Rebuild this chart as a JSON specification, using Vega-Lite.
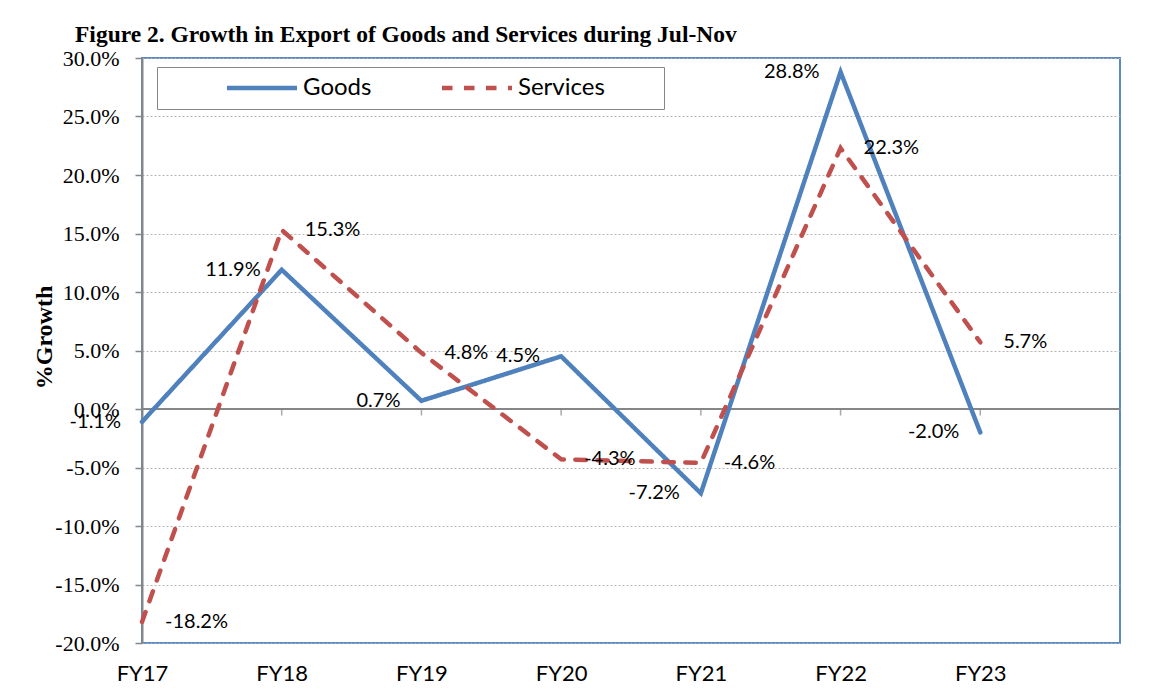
{
  "$schema": "https://vega.github.io/schema/vega-lite/v6.json",
  "width": 978,
  "height": 585,
  "autosize": {"type": "none"},
  "padding": {"left": 142, "top": 58, "right": 38, "bottom": 48},
  "background": "white",
  "title": {
    "text": "Figure 2. Growth in Export of Goods and Services during Jul-Nov",
    "anchor": "start",
    "frame": "group",
    "font": "Liberation Serif",
    "fontSize": 23.5,
    "fontWeight": "bold",
    "color": "black",
    "dx": -67,
    "offset": 1
  },
  "data": {
    "values": [
      {"year": "FY17", "series": "Goods", "value": -1.1},
      {"year": "FY18", "series": "Goods", "value": 11.9},
      {"year": "FY19", "series": "Goods", "value": 0.7},
      {"year": "FY20", "series": "Goods", "value": 4.5},
      {"year": "FY21", "series": "Goods", "value": -7.2},
      {"year": "FY22", "series": "Goods", "value": 28.8},
      {"year": "FY23", "series": "Goods", "value": -2.0},
      {"year": "FY17", "series": "Services", "value": -18.2},
      {"year": "FY18", "series": "Services", "value": 15.3},
      {"year": "FY19", "series": "Services", "value": 4.8},
      {"year": "FY20", "series": "Services", "value": -4.3},
      {"year": "FY21", "series": "Services", "value": -4.6},
      {"year": "FY22", "series": "Services", "value": 22.3},
      {"year": "FY23", "series": "Services", "value": 5.7}
    ]
  },
  "transform": [
    {"calculate": "replace(format(datum.value, '.1f'), '\u2212', '-') + '%'", "as": "label"}
  ],
  "encoding": {
    "x": {
      "field": "year",
      "type": "ordinal",
      "scale": {"type": "point", "domain": ["FY17", "FY18", "FY19", "FY20", "FY21", "FY22", "FY23", " "], "padding": 0},
      "axis": {
        "title": null,
        "domain": false,
        "ticks": false,
        "grid": false,
        "labelAngle": 0,
        "labelFont": "Lato",
        "labelFontSize": 22,
        "labelColor": "black",
        "labelPadding": 20
      }
    },
    "y": {
      "field": "value",
      "type": "quantitative",
      "scale": {"domain": [-20, 30], "nice": false, "zero": false},
      "axis": {
        "values": [-20, -15, -10, -5, 0, 5, 10, 15, 20, 25, 30],
        "labelExpr": "replace(format(datum.value, '.1f'), '\u2212', '-') + '%'",
        "labelFont": "Liberation Serif",
        "labelFontSize": 22,
        "labelColor": "black",
        "labelPadding": 16,
        "tickColor": "#868686",
        "tickSize": 7,
        "tickWidth": 1.5,
        "domainColor": "#868686",
        "domainWidth": 2,
        "grid": true,
        "gridColor": "#b4b4b4",
        "gridDash": [2, 2],
        "gridWidth": 1,
        "title": "%Growth",
        "titleFont": "Liberation Serif",
        "titleFontSize": 24,
        "titleFontWeight": "bold",
        "titleColor": "black",
        "titlePadding": -2,
        "titleY": 279
      }
    }
  },
  "layer": [
    {
      "mark": {"type": "rule", "color": "#868686", "strokeWidth": 2},
      "encoding": {"y": {"datum": 0}, "x": {"value": 0}, "x2": {"value": 978}}
    },
    {
      "transform": [{"filter": "datum.series === 'Goods'"}],
      "mark": {"type": "tick", "orient": "vertical", "size": 7, "thickness": 1.5, "yOffset": 3, "color": "#868686"},
      "encoding": {"y": {"datum": 0}}
    },
    {
      "mark": {"type": "line", "strokeWidth": 4.5, "strokeCap": "round"},
      "encoding": {
        "color": {
          "field": "series",
          "type": "nominal",
          "title": " ",
          "scale": {"domain": ["Goods", "Services"], "range": ["#4F81BD", "#C0504D"]}
        },
        "strokeDash": {
          "field": "series",
          "type": "nominal",
          "title": " ",
          "scale": {"domain": ["Goods", "Services"], "range": [[1, 0], [10.5, 11.5]]}
        }
      }
    },
    {
      "transform": [{"filter": "datum.series === 'Goods'"}],
      "mark": {"type": "text", "align": "right", "baseline": "middle", "dx": -21, "font": "Lato", "fontSize": 20, "color": "black"},
      "encoding": {"text": {"field": "label", "type": "nominal"}}
    },
    {
      "transform": [{"filter": "datum.series === 'Services'"}],
      "mark": {"type": "text", "align": "left", "baseline": "middle", "dx": 23, "font": "Lato", "fontSize": 20, "color": "black"},
      "encoding": {"text": {"field": "label", "type": "nominal"}}
    }
  ],
  "config": {
    "view": {"stroke": "#5A89C6", "strokeWidth": 2},
    "legend": {
      "orient": "none",
      "legendX": 15,
      "legendY": 9,
      "direction": "horizontal",
      "strokeColor": "#868686",
      "fillColor": "white",
      "padding": 9,
      "symbolType": "M-5,0L5,0",
      "symbolSize": 196,
      "symbolStrokeWidth": 4.5,
      "labelFont": "Lato",
      "labelFontSize": 24,
      "labelColor": "black",
      "labelOffset": 29,
      "columnPadding": 9,
      "symbolOffset": 84,
      "titleOrient": "right",
      "titlePadding": 50
    }
  }
}
